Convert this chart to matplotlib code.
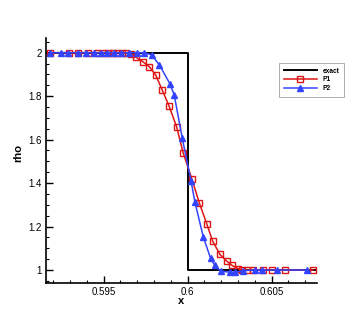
import numpy as np
import matplotlib.pyplot as plt
from matplotlib.ticker import MultipleLocator

plt.rcParams['font.family'] = ['Liberation Sans', 'DejaVu Sans']

# exact solution (step at x=0.6)
x_exact = [0.59157, 0.6, 0.6, 0.60768]
rho_exact = [2.0, 2.0, 1.0, 1.0]

# P1 solution
x_p1 = [0.59180, 0.59293, 0.59347, 0.59407, 0.59460, 0.59496, 0.59526, 0.59555,
        0.59579, 0.59609, 0.59633, 0.59660, 0.59692, 0.59732, 0.59771, 0.59810,
        0.59849, 0.59889, 0.59935, 0.59974, 0.60026, 0.60069, 0.60113, 0.60148,
        0.60192, 0.60232, 0.60265, 0.60301, 0.60321, 0.60351, 0.60390, 0.60450,
        0.60500, 0.60579, 0.60748]
rho_p1 = [2.0, 2.0, 2.0, 2.0, 2.0, 2.0, 2.0, 2.0,
          2.0, 2.0, 2.0, 1.994, 1.979, 1.959, 1.936, 1.897,
          1.827, 1.755, 1.657, 1.537, 1.417, 1.309, 1.214, 1.134,
          1.072, 1.041, 1.021, 1.006, 1.001, 1.0, 1.0, 1.0,
          1.0, 1.0, 1.0]

# P2 solution
x_p2 = [0.59180, 0.59246, 0.59288, 0.59347, 0.59395, 0.59442, 0.59484, 0.59520,
        0.59561, 0.59603, 0.59651, 0.59698, 0.59740, 0.59786, 0.59832, 0.59895,
        0.59920, 0.59968, 0.60020, 0.60043, 0.60093, 0.60136, 0.60162, 0.60196,
        0.60252, 0.60282, 0.60331, 0.60401, 0.60440, 0.60530, 0.60708]
rho_p2 = [2.0, 2.0, 2.0, 2.0, 2.0, 2.0, 2.0, 2.0,
          2.0, 2.0, 2.0, 2.0, 2.0, 1.99, 1.943, 1.856,
          1.805, 1.606, 1.41, 1.313, 1.152, 1.055, 1.021, 0.995,
          0.99, 0.99, 0.997, 1.0, 1.0, 1.0, 1.0]

fig = plt.figure(figsize=(3.6, 3.2), dpi=100)
ax = fig.add_axes([0.1278, 0.1147, 0.752, 0.7656])

ax.plot(x_exact, rho_exact, color='black', lw=1.4, label='exact')
ax.plot(x_p1, rho_p1, color='#dd1515', lw=1.1, marker='s', ms=4,
        mfc='none', mec='#dd1515', mew=1.0, label='P1')
ax.plot(x_p2, rho_p2, color='#3344ff', lw=1.1, marker='^', ms=5,
        mfc='#3344ff', mec='#3344ff', label='P2')

ax.set_xlim(0.59157, 0.60768)
ax.set_ylim(0.939, 2.066)
ax.spines['top'].set_visible(False)
ax.spines['right'].set_visible(False)
ax.spines['left'].set_linewidth(1.2)
ax.spines['bottom'].set_linewidth(1.2)

ax.xaxis.set_minor_locator(MultipleLocator(0.001))
ax.yaxis.set_minor_locator(MultipleLocator(0.05))
ax.set_xticks([0.595, 0.6, 0.605])
ax.set_xticklabels(['0.595', '0.6', '0.605'])
ax.set_yticks([1.0, 1.2, 1.4, 1.6, 1.8, 2.0])
ax.set_yticklabels(['1', '1.2', '1.4', '1.6', '1.8', '2'])
ax.tick_params(which='major', direction='in', length=5, width=1.0, labelsize=7)
ax.tick_params(axis='x', which='major', pad=3)
ax.tick_params(axis='y', which='major', pad=3)
ax.tick_params(which='minor', direction='in', length=2.5, width=0.8)

ax.set_xlabel('x', fontsize=8, fontweight='bold', labelpad=-1)
ax.set_ylabel('rho', fontsize=8, fontweight='bold', labelpad=5)
ax.yaxis.set_label_coords(-0.085, 0.53)

leg = ax.legend(loc='upper left', bbox_to_anchor=(0.861, 0.899), fontsize=4.8,
                handlelength=5, frameon=True, fancybox=False, borderpad=0.7,
                labelspacing=0.25, handletextpad=0.8, borderaxespad=0)
leg.get_frame().set_edgecolor('#888888')
leg.get_frame().set_linewidth(0.6)
for t in leg.get_texts():
    t.set_fontweight('bold')

fig.savefig('out.png', dpi=100)
